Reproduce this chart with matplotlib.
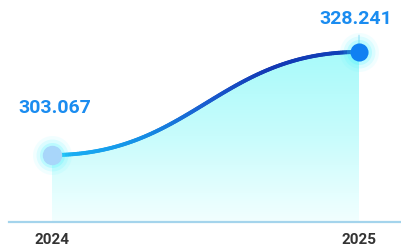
import numpy as np
import matplotlib.pyplot as plt
from matplotlib.path import Path
from matplotlib.patches import PathPatch
from matplotlib.collections import LineCollection
from matplotlib.colors import LinearSegmentedColormap
from matplotlib.bezier import BezierSegment

years = [2024, 2025]
values = [303.067, 328.241]
labels = ['303.067', '328.241']

plt.rcParams['font.family'] = ['Roboto', 'DejaVu Sans']

fig = plt.figure(figsize=(4.02, 2.5), dpi=100)
ax = fig.add_axes([9 / 402, 28 / 250, 392 / 402, 212 / 250])
ax.set_xlim(2024 - 43 / 307, 2025 + 42 / 307)
ax.set_ylim(286.7, 338.5)

# smooth S curve between the two points (bezier with flat tangents)
x0, x1 = years
y0, y1 = values
dx = x1 - x0
ctrl = np.array([[x0, y0], [x0 + 0.45 * dx, y0], [x1 - 0.45 * dx, y1], [x1, y1]])
seg = BezierSegment(ctrl)
pts = seg(np.linspace(0, 1, 200))

# area fill with vertical gradient
ybot = ax.get_ylim()[0]
verts = np.vstack([pts, [[x1, ybot], [x0, ybot], [x0, y0]]])
codes = [Path.MOVETO] + [Path.LINETO] * (len(verts) - 2) + [Path.CLOSEPOLY]
clip = PathPatch(Path(verts, codes), facecolor='none', edgecolor='none')
ax.add_patch(clip)
fill_cmap = LinearSegmentedColormap.from_list('f', ['#f2ffff', '#c8fcfc', '#a8fafa'])
grad = np.linspace(0, 1, 256).reshape(-1, 1)
im = ax.imshow(grad, cmap=fill_cmap, aspect='auto', origin='lower',
               extent=[x0, x1, ybot, y1], zorder=1)
im.set_clip_path(clip)

# gradient line
line_cmap = LinearSegmentedColormap.from_list('l', ['#1ab4f6', '#1590e6', '#1a5ed0', '#1238b4', '#1040b8'])
segs = np.stack([pts[:-1], pts[1:]], axis=1)
lc = LineCollection(segs, cmap=line_cmap, linewidths=2.8, capstyle='round', zorder=3)
lc.set_array(np.linspace(0, 1, len(segs)))
ax.add_collection(lc)

# glow + markers
for r, a in [(28, 0.07), (23, 0.12), (18, 0.2), (13, 0.35)]:
    ax.scatter(years, values, s=r ** 2, color='#3cf2ff', alpha=a, linewidths=0, zorder=4)
ax.scatter([x0], [y0], s=14 ** 2, color='#a8d6fa', linewidths=0, zorder=5)
ax.scatter([x1], [y1], s=13 ** 2, color='#1080f2', linewidths=0, zorder=5)

ax.annotate('', xy=(x1, y1), xytext=(0, 14), textcoords='offset points',
            arrowprops=dict(arrowstyle='-', color='#b8e4f8', lw=1), zorder=2)

# value labels
offsets = [(1.8, 33.5), (-2, 23.5)]
for x, y, t, off in zip(years, values, labels, offsets):
    ax.annotate(t, xy=(x, y), xytext=off, textcoords='offset points',
                ha='center', va='center', fontsize=14, fontweight='bold', color='#1a8cf0')

ax.set_xticks(years)
ax.set_xticklabels([str(y) for y in years], fontsize=11, fontweight='bold', color='#333333')
ax.tick_params(axis='x', length=0, pad=8)
ax.set_yticks([])
for s in ['top', 'right', 'left']:
    ax.spines[s].set_visible(False)
ax.spines['bottom'].set_color('#a4d4ec')
ax.spines['bottom'].set_linewidth(1.6)
ax.patch.set_alpha(0)

fig.savefig('out.png', dpi=100)
